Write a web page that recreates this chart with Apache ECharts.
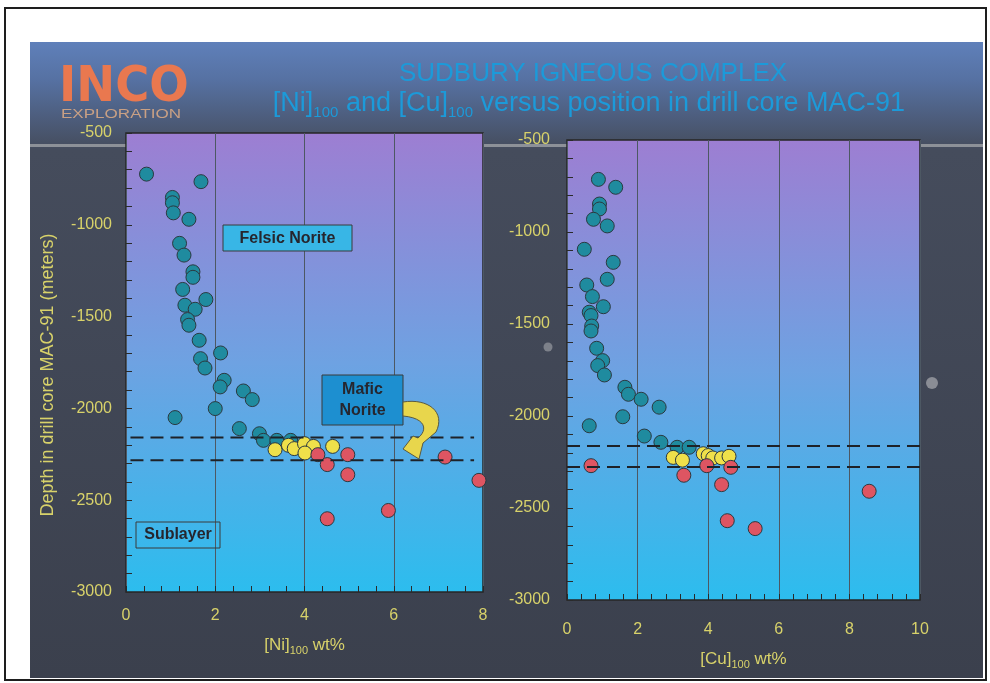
<!DOCTYPE html>
<html><head><meta charset="utf-8">
<script src="https://cdn.jsdelivr.net/npm/echarts@6/dist/echarts.min.js"></script>
<style>html,body{margin:0;padding:0;background:#fff}#c{width:990px;height:683px}</style>
</head><body><div id="c"></div>
<script>
// ---------- data ----------
const niTicks = [0, 2, 4, 6, 8];
const cuTicks = [0, 2, 4, 6, 8, 10];
const depthTicks = [-3000, -2500, -2000, -1500, -1000, -500];

const niFelsic = [[0.46,-724],[1.68,-765],[1.04,-851],[1.04,-880],[1.06,-935],[1.41,-970],[1.20,-1101],[1.30,-1165],[1.50,-1256],[1.50,-1286],[1.27,-1352],[1.79,-1407],[1.32,-1438],[1.55,-1460],[1.38,-1516],[1.41,-1547],[1.64,-1629],[2.12,-1698],[1.67,-1729],[1.77,-1780],[2.20,-1847],[2.11,-1883],[2.63,-1905],[2.83,-1952],[1.10,-2050],[2.00,-2001],[2.54,-2110],[2.99,-2138],[3.08,-2174],[3.38,-2174],[3.69,-2174]];
const niMafic = [[3.34,-2225],[3.64,-2201],[3.77,-2219],[4.00,-2192],[4.20,-2207],[4.01,-2243],[4.63,-2207]];
const niSublayer = [[4.30,-2252],[4.51,-2306],[4.97,-2252],[4.97,-2361],[4.51,-2601],[5.88,-2556],[7.15,-2265],[7.91,-2392]];

const cuFelsic = [[0.89,-714],[1.38,-757],[0.92,-848],[0.92,-875],[0.75,-931],[1.14,-967],[0.49,-1094],[1.31,-1165],[1.14,-1257],[0.56,-1288],[0.72,-1351],[1.03,-1406],[0.63,-1436],[0.68,-1454],[0.70,-1511],[0.68,-1538],[0.84,-1632],[1.01,-1699],[0.87,-1726],[1.06,-1777],[1.64,-1844],[1.74,-1882],[2.10,-1909],[2.61,-1952],[1.58,-2004],[0.63,-2053],[2.19,-2109],[2.66,-2143],[3.12,-2170],[3.46,-2170]];
const cuMafic = [[3.01,-2225],[3.27,-2240],[3.86,-2205],[4.00,-2215],[4.13,-2228],[4.38,-2228],[4.59,-2219]];
const cuSublayer = [[0.68,-2270],[3.31,-2322],[3.96,-2270],[4.64,-2279],[4.38,-2373],[4.54,-2569],[5.33,-2612],[8.56,-2409]];

const niBoundaries = [-2158, -2283];
const niBoundaryX = [0.1, 7.8];
const cuBoundaries = [-2163, -2277];
const cuBoundaryX = [0, 10];

const titleLine1 = 'SUDBURY IGNEOUS COMPLEX';
const yAxisName = 'Depth in drill core MAC-91 (meters)';
const unitLabels = ['Felsic Norite', 'Mafic', 'Norite', 'Sublayer'];

// ---------- styles ----------
const FONT = '"Liberation Sans", Arial, sans-serif';
const YEL = '#d8d26a';
const TITLE_BLUE = '#1c9ad9';
const LG = echarts.graphic.LinearGradient;
function plotBg() {
  return new LG(0, 0, 0, 1, [{offset:0, color:'#9d7ed2'}, {offset:0.5, color:'#6ea2e2'}, {offset:1, color:'#2cbdee'}]);
}
function bez(p0, p1, p2, p3, n) {
  const out = [];
  for (let i = 0; i <= n; i++) {
    const t = i / n, u = 1 - t;
    out.push([u*u*u*p0[0] + 3*u*u*t*p1[0] + 3*u*t*t*p2[0] + t*t*t*p3[0],
              u*u*u*p0[1] + 3*u*u*t*p1[1] + 3*u*t*t*p2[1] + t*t*t*p3[1]]);
  }
  return out;
}
const arrowPts = [].concat(
  bez([403,402],[428,398],[446,412],[436,432], 16),
  [[423,443],[419,459],[403,449],[413,436],[418,438]],
  bez([418,438],[428,430],[426,418],[403,416], 12)
);

function xAxis(gi, ticks, margin, gap, el) {
  return {
    type:'value', gridIndex:gi, min:ticks[0], max:ticks[ticks.length-1], interval:ticks[1]-ticks[0],
    axisLine:{show:false},
    axisTick:{show:true, inside:true, length:6, lineStyle:{color:'#2a2a2a'}},
    minorTick:{show:true, splitNumber:5, length:6, lineStyle:{color:'#2a2a2a'}},
    splitLine:{show:true, lineStyle:{color:'#4d5863', width:1}},
    axisLabel:{color:YEL, fontSize:16, fontFamily:FONT, margin:margin},
    name:'{a|[' + el + ']}{s|100}{a| wt%}', nameLocation:'middle', nameGap:gap,
    nameTextStyle:{rich:{
      a:{color:YEL, fontSize:17, fontFamily:FONT, lineHeight:22},
      s:{color:YEL, fontSize:11, fontFamily:FONT, verticalAlign:'bottom', lineHeight:22}
    }}
  };
}
function yAxis(gi, margin) {
  return {
    type:'value', gridIndex:gi, min:depthTicks[0], max:depthTicks[depthTicks.length-1], interval:500,
    axisLine:{show:false},
    axisTick:{show:true, inside:true, length:6, lineStyle:{color:'#2a2a2a'}},
    minorTick:{show:true, splitNumber:5, length:6, lineStyle:{color:'#2a2a2a'}},
    splitLine:{show:false},
    axisLabel:{color:YEL, fontSize:16, fontFamily:FONT, margin:margin, formatter:v => String(v)}
  };
}
function scatter(xi, data, color) {
  return {type:'scatter', xAxisIndex:xi, yAxisIndex:xi, data:data, symbolSize:14, z:3,
    itemStyle:{color:color, borderColor:'#2b3940', borderWidth:1, opacity:1}};
}
function bound(xi, xs, y) {
  return {type:'line', xAxisIndex:xi, yAxisIndex:xi, data:[[xs[0], y],[xs[1], y]], symbol:'none', z:4,
    silent:true, lineStyle:{color:'#1e2228', width:2, type:[13,7]}};
}

const TEAL = '#1f8b9f', YELLOWP = '#efe04a', RED = '#de5562';

const chart = echarts.init(document.getElementById('c'));
chart.setOption({
  animation:false,
  backgroundColor:'#ffffff',
  grid:[
    {left:126, top:133, width:357, height:459, show:true, backgroundColor:plotBg(), borderColor:'#262626', borderWidth:1.5},
    {left:567, top:140, width:353, height:460, show:true, backgroundColor:plotBg(), borderColor:'#262626', borderWidth:1.5}
  ],
  xAxis:[xAxis(0, niTicks, 16, 42, 'Ni'), xAxis(1, cuTicks, 22, 48, 'Cu')],
  yAxis:[yAxis(0, 14), yAxis(1, 17)],
  series:[
    scatter(0, niFelsic, TEAL), scatter(0, niMafic, YELLOWP), scatter(0, niSublayer, RED),
    scatter(1, cuFelsic, TEAL), scatter(1, cuMafic, YELLOWP), scatter(1, cuSublayer, RED),
    bound(0, niBoundaryX, niBoundaries[0]), bound(0, niBoundaryX, niBoundaries[1]),
    bound(1, cuBoundaryX, cuBoundaries[0]), bound(1, cuBoundaryX, cuBoundaries[1])
  ],
  graphic:{elements:[
    {type:'rect', z:-20, shape:{x:5, y:8, width:981, height:672}, style:{fill:'#ffffff', stroke:'#1e1e1e', lineWidth:2}},
    {type:'rect', z:-19, shape:{x:30, y:42, width:953, height:636}, style:{fill:new LG(0, 0, 0, 1, [
      {offset:0, color:'#5f80ba'}, {offset:0.06, color:'#5671a2'}, {offset:0.17, color:'#454c5c'}, {offset:1, color:'#3b404d'}])}},
    {type:'rect', z:-18, shape:{x:30, y:144, width:953, height:3}, style:{fill:'#8d9198'}},
    {type:'circle', z:-18, shape:{cx:548, cy:347, r:4.5}, style:{fill:'#7d818a'}},
    {type:'circle', z:-18, shape:{cx:932, cy:383, r:6}, style:{fill:'#8a8d95'}},
    {type:'text', z:5, x:59, y:63, scaleX:0.93, style:{text:'INCO', font:'bold 50px "DejaVu Sans"', fill:'#e9784f'}},
    {type:'text', z:5, x:61, y:109, scaleX:1.42, style:{text:'EXPLORATION', font:'12px "Liberation Sans"', fill:'#c9a084'}},
    {type:'text', z:5, x:593, y:74, style:{text:titleLine1, font:'26px "Liberation Sans"', fill:TITLE_BLUE, align:'center', verticalAlign:'middle'}},
    {type:'text', z:5, x:589, y:104, style:{text:'{a|[Ni]}{s|100}{a| and [Cu]}{s|100}{a| versus position in drill core MAC-91}',
      align:'center', verticalAlign:'middle',
      rich:{a:{fontSize:27, fontFamily:'Liberation Sans', fill:TITLE_BLUE, lineHeight:32},
            s:{fontSize:15, fontFamily:'Liberation Sans', fill:TITLE_BLUE, verticalAlign:'bottom', lineHeight:32}}}},
    {type:'text', z:5, x:48, y:375, rotation:Math.PI/2, style:{text:yAxisName, font:'18px "Liberation Sans"', fill:YEL, align:'center', verticalAlign:'middle'}},
    {type:'rect', z:10, shape:{x:223, y:225, width:129, height:26}, style:{fill:'#38b6e6', stroke:'#3a3a3a', lineWidth:1}},
    {type:'text', z:11, x:287.5, y:238.5, style:{text:unitLabels[0], font:'bold 16px "Liberation Sans"', fill:'#26262e', align:'center', verticalAlign:'middle'}},
    {type:'rect', z:10, shape:{x:322, y:375, width:81, height:50}, style:{fill:'#1d8fd0', stroke:'#3a3a3a', lineWidth:1}},
    {type:'text', z:11, x:362.5, y:390, style:{text:unitLabels[1], font:'bold 16px "Liberation Sans"', fill:'#26262e', align:'center', verticalAlign:'middle'}},
    {type:'text', z:11, x:362.5, y:411, style:{text:unitLabels[2], font:'bold 16px "Liberation Sans"', fill:'#26262e', align:'center', verticalAlign:'middle'}},
    {type:'rect', z:10, shape:{x:136, y:522, width:84, height:26}, style:{fill:'rgba(0,0,0,0)', stroke:'#3a3a3a', lineWidth:1}},
    {type:'text', z:11, x:178, y:535, style:{text:unitLabels[3], font:'bold 16px "Liberation Sans"', fill:'#26262e', align:'center', verticalAlign:'middle'}},
    {type:'polygon', z:10, shape:{points:arrowPts}, style:{fill:'#e8d64c', stroke:'#5a5a40', lineWidth:1}}
  ]}
});
</script>
</body></html>
